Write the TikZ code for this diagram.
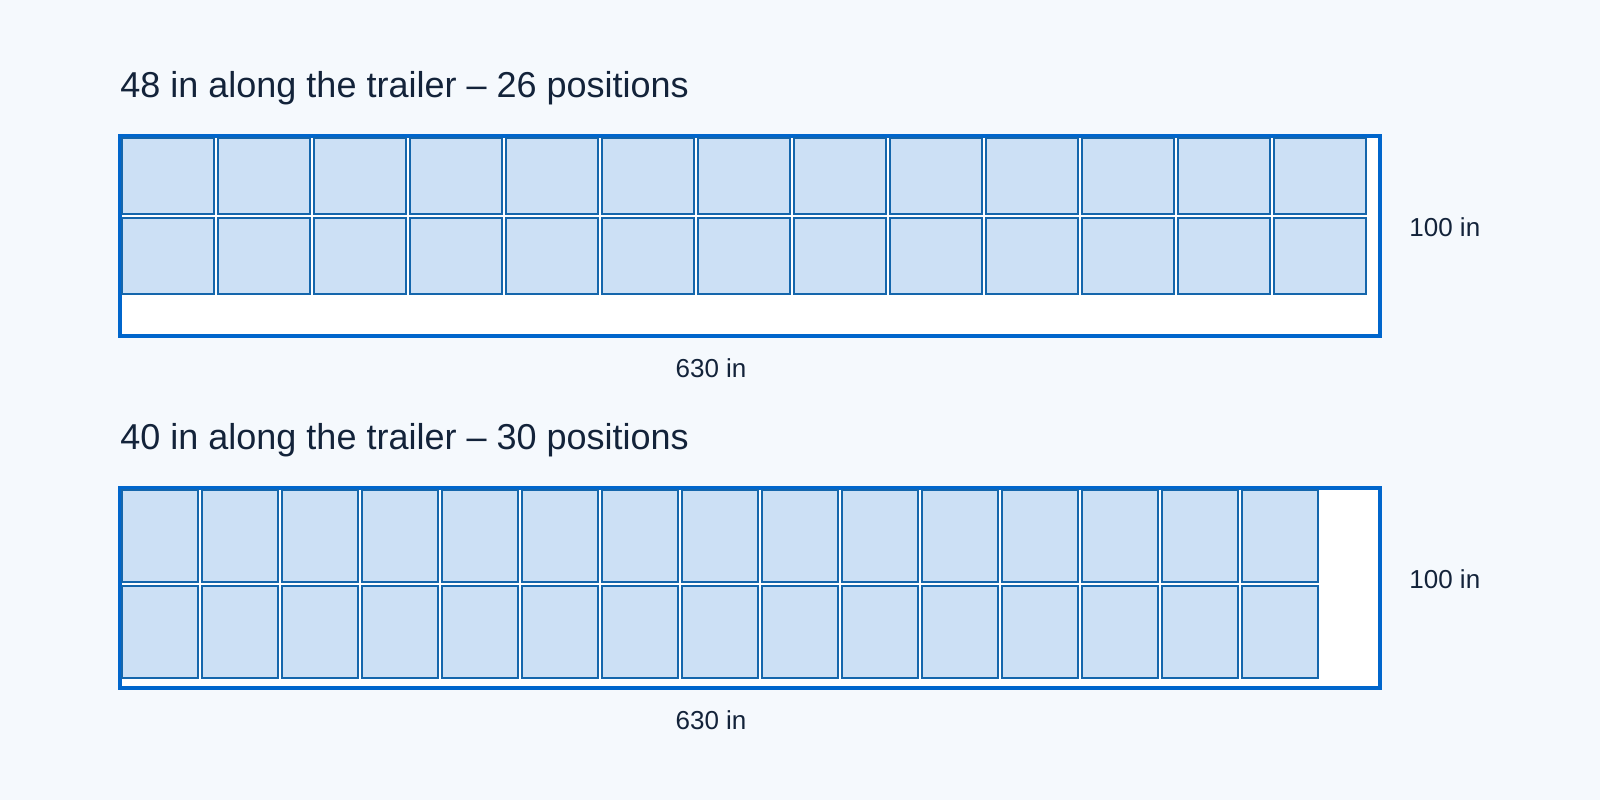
\documentclass[tikz,border=0pt]{standalone}
\usepackage{fontspec}
\setmainfont{Liberation Sans}
\usetikzlibrary{positioning}
\definecolor{pagebg}{HTML}{F5F9FD}
\definecolor{trailerblue}{HTML}{0066CC}
\definecolor{palletfill}{HTML}{CCE0F5}
\definecolor{palletline}{HTML}{1466AC}
\definecolor{labelink}{HTML}{13233A}
\tikzset{
	trailer/.style={draw=trailerblue, line width=2pt, fill=white, inner sep=0pt, outer sep=0pt, minimum width=630pt, minimum height=100pt},
	pallet/.style={draw=palletline, line width=0.8pt, fill=palletfill, inner sep=0pt, outer sep=0pt},
	heading/.style={text=labelink, font=\fontsize{18pt}{20pt}\selectfont, inner sep=0pt, anchor=base west},
	dimlabel/.style={text=labelink, font=\fontsize{13pt}{15pt}\selectfont, inner sep=0pt},
}
\begin{document}
\begin{tikzpicture}[x=1pt, y=1pt]
	% Page background
	\fill[pagebg] (0,0) rectangle (800,400);
	\useasboundingbox (0,0) rectangle (800,400);
	
	% Trailer loaded with 48 in along its length
	\node[trailer] (trailerA) at (375,282) {};
	\node[heading] (titleA) at ([yshift=19.5pt]trailerA.north west) {48 in along the trailer -- 26 positions};
	\foreach \i in {0,...,12} {
		\foreach \j in {0,1} {
			\node[pallet, minimum width=46pt, minimum height=38pt] (a-\i-\j) at (84+\i*48, 312-\j*40) {};
		}
	}
	\node[dimlabel, anchor=base west] (depthA) at ([xshift=14.5pt]trailerA.east) {100 in};
	\node[dimlabel, anchor=base] (lengthA) at ([xshift=-19.5pt, yshift=-20.5pt]trailerA.south) {630 in};
	
	% Trailer loaded with 40 in along its length
	\node[trailer] (trailerB) at (375,106) {};
	\node[heading] (titleB) at ([yshift=19.5pt]trailerB.north west) {40 in along the trailer -- 30 positions};
	\foreach \i in {0,...,14} {
		\foreach \j in {0,1} {
			\node[pallet, minimum width=38pt, minimum height=46pt] (b-\i-\j) at (80+\i*40, 132-\j*48) {};
		}
	}
	\node[dimlabel, anchor=base west] (depthB) at ([xshift=14.5pt]trailerB.east) {100 in};
	\node[dimlabel, anchor=base] (lengthB) at ([xshift=-19.5pt, yshift=-20.5pt]trailerB.south) {630 in};
\end{tikzpicture}
\end{document}
